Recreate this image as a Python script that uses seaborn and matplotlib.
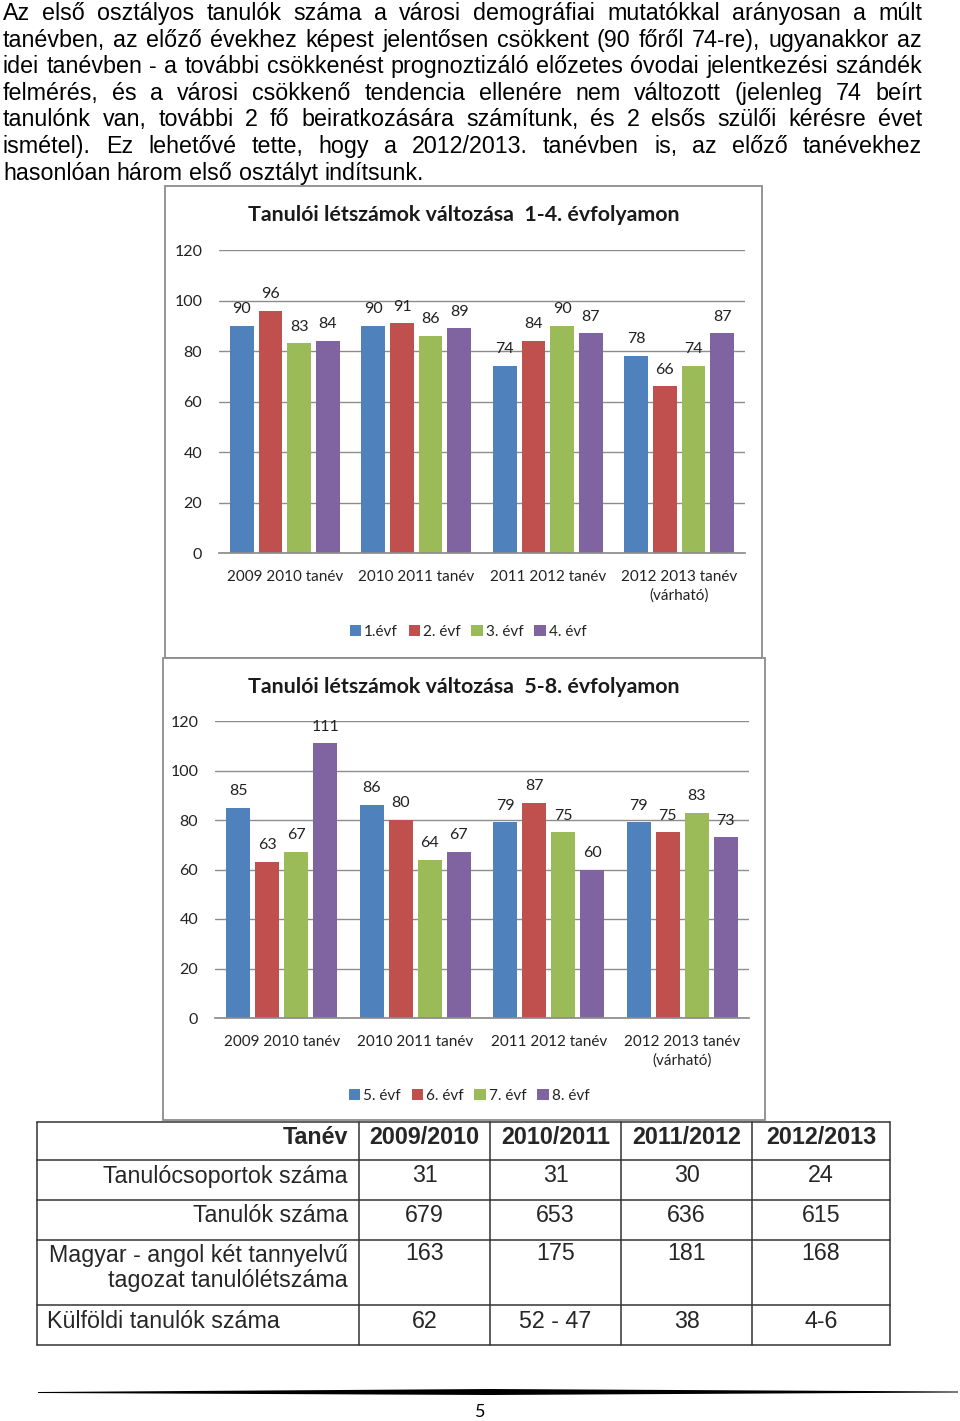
import matplotlib
matplotlib.use("Agg")
import matplotlib.pyplot as plt
import seaborn as sns
import pandas as pd
from matplotlib.patches import Rectangle, Polygon

# --- chart data ---
tanevek = ["2009 2010 tanév", "2010 2011 tanév", "2011 2012 tanév", "2012 2013 tanév\n(várható)"]

also_evf = ["1.évf", "2. évf", "3. évf", "4. évf"]
also_letszam = [
    [90, 90, 74, 78],
    [96, 91, 84, 66],
    [83, 86, 90, 74],
    [84, 89, 87, 87],
]

felso_evf = ["5. évf", "6. évf", "7. évf", "8. évf"]
felso_letszam = [
    [85, 86, 79, 79],
    [63, 80, 87, 75],
    [67, 64, 75, 83],
    [111, 67, 60, 73],
]

colors = ["#4F81BD", "#C0504D", "#9BBB59", "#8064A2"]

# --- table data ---
tabla_fejlec = ["Tanév", "2009/2010", "2010/2011", "2011/2012", "2012/2013"]
tabla_sorok = ["Tanulócsoportok száma", "Tanulók száma",
               "Magyar - angol két tannyelvű\ntagozat tanulólétszáma", "Külföldi tanulók száma"]
tabla_ertekek = [
    ["31", "31", "30", "24"],
    ["679", "653", "636", "615"],
    ["163", "175", "181", "168"],
    ["62", "52 - 47", "38", "4-6"],
]

bekezdes = [
    "Az első osztályos tanulók száma a városi demográfiai mutatókkal arányosan a múlt",
    "tanévben, az előző évekhez képest jelentősen csökkent (90 főről 74-re), ugyanakkor az",
    "idei tanévben - a további csökkenést prognoztizáló előzetes óvodai jelentkezési szándék",
    "felmérés, és a városi csökkenő tendencia ellenére nem változott (jelenleg 74 beírt",
    "tanulónk van, további 2 fő beiratkozására számítunk, és 2 elsős szülői kérésre évet",
    "ismétel). Ez lehetővé tette, hogy a 2012/2013. tanévben is, az előző tanévekhez",
    "hasonlóan három első osztályt indítsunk.",
]

sns.set_theme(style="white")
plt.rcParams["font.family"] = ["Lato", "DejaVu Sans"]
TEXT_FONT = ["Liberation Sans", "DejaVu Sans"]

W, H = 960, 1421
fig = plt.figure(figsize=(W / 100, H / 100), dpi=100)
bg = fig.add_axes([0, 0, 1, 1])
bg.set_xlim(0, W)
bg.set_ylim(H, 0)
bg.axis("off")
renderer = fig.canvas.get_renderer()


def text_width(s, size):
    t = bg.text(0, 0, s, fontsize=size, family=TEXT_FONT)
    w = t.get_window_extent(renderer).width
    t.remove()
    return w


# the tightest line of the paragraph fills the column almost without extra space
par_size = 16 * 912 / text_width(bekezdes[2], 16)
space_w = text_width("a a", par_size) - text_width("aa", par_size)

# --- justified paragraph ---
for i, line in enumerate(bekezdes):
    y = 20 + i * 26.6
    words = line.split(" ")
    texts = [bg.text(0, y, w, fontsize=par_size, family=TEXT_FONT, va="baseline", color="black")
             for w in words]
    widths = [t.get_window_extent(renderer).width for t in texts]
    if i == len(bekezdes) - 1:
        gap = space_w
    else:
        gap = (922 - 3 - sum(widths)) / (len(words) - 1)
    x = 3
    for t, w in zip(texts, widths):
        t.set_x(x)
        x += w + gap


def px_axes(x0, y0, x1, y1):
    return fig.add_axes([x0 / W, 1 - y1 / H, (x1 - x0) / W, (y1 - y0) / H])


def draw_chart(frame, plot, title, title_xy, legend_xy, evf, letszam):
    fx0, fy0, fx1, fy1 = frame
    bg.add_patch(Rectangle((fx0, fy0), fx1 - fx0, fy1 - fy0, facecolor="white",
                           edgecolor="#8c8c8c", lw=1.3, zorder=1))
    bg.text(title_xy[0], title_xy[1], title, ha="center", va="center",
            fontsize=15.4, weight="bold", color="#1a1a1a", zorder=2)

    df = pd.DataFrame({
        "tanev": [t for _ in evf for t in tanevek],
        "evf": [e for e in evf for _ in tanevek],
        "letszam": [v for row in letszam for v in row],
    })
    ax = px_axes(*plot)
    ax.patch.set_visible(False)
    sns.barplot(data=df, x="tanev", y="letszam", hue="evf", palette=colors,
                saturation=1, width=0.87, gap=0.17, linewidth=0, ax=ax)
    ax.set_ylim(0, 120)
    ax.set_yticks(range(0, 121, 20))
    ax.set_xlabel("")
    ax.set_ylabel("")
    ax.yaxis.grid(True, color="#8c8c8c", lw=1)
    ax.set_axisbelow(True)
    for s in ["left", "right", "top"]:
        ax.spines[s].set_visible(False)
    ax.spines["bottom"].set_color("#8c8c8c")
    ax.tick_params(axis="y", length=0, pad=12, labelsize=11.5, labelcolor="#222222")
    ax.tick_params(axis="x", length=0, pad=12, labelsize=11, labelcolor="#222222")
    for lbl in ax.get_xticklabels():
        lbl.set_linespacing(1.45)
    for c in ax.containers:
        ax.bar_label(c, padding=7, fontsize=11.5, color="#222222")

    handles, labels = ax.get_legend_handles_labels()
    ax.get_legend().remove()
    ax.legend(handles, labels, loc="center", bbox_to_anchor=(legend_xy[0] / W, 1 - legend_xy[1] / H),
              bbox_transform=fig.transFigure, ncol=4, frameon=False, fontsize=11,
              handlelength=0.75, handleheight=0.75, handletextpad=0.2, columnspacing=0.7,
              labelcolor="#222222")
    return ax


draw_chart((165, 186, 762, 658), (219, 250, 745, 553),
           "Tanulói létszámok változása  1-4. évfolyamon", (464, 215), (468, 632),
           also_evf, also_letszam)
draw_chart((163, 658, 765, 1120), (215, 721, 749, 1018),
           "Tanulói létszámok változása  5-8. évfolyamon", (464, 687), (469, 1096),
           felso_evf, felso_letszam)

# --- table ---
col_x = [37, 359, 490, 621, 752, 890]
row_y = [1122, 1160, 1200, 1240, 1305, 1345]
for x in col_x:
    bg.plot([x, x], [row_y[0], row_y[-1]], color="#333333", lw=1.1, zorder=5)
for y in row_y:
    bg.plot([col_x[0], col_x[-1]], [y, y], color="#333333", lw=1.1, zorder=5)

col_c = [(col_x[i] + col_x[i + 1]) / 2 for i in range(1, 5)]
bg.text(348, 1137, tabla_fejlec[0], ha="right", va="center", fontsize=par_size,
        family=TEXT_FONT, weight="bold", zorder=6)
for cx, h in zip(col_c, tabla_fejlec[1:]):
    bg.text(cx, 1137, h, ha="center", va="center", fontsize=par_size,
            family=TEXT_FONT, weight="bold", zorder=6)

label_y = [1176, 1215, 1268, 1321]
value_y = [1176, 1215, 1254, 1321]
for i, (lab, vals) in enumerate(zip(tabla_sorok, tabla_ertekek)):
    if i == len(tabla_sorok) - 1:
        bg.text(47, label_y[i], lab, ha="left", va="center", fontsize=par_size,
                family=TEXT_FONT, zorder=6)
    else:
        bg.text(348, label_y[i], lab, ha="right", va="center", fontsize=par_size,
                family=TEXT_FONT, multialignment="right", linespacing=1.1, zorder=6)
    for cx, v in zip(col_c, vals):
        bg.text(cx, value_y[i], v, ha="center", va="center", fontsize=par_size,
                family=TEXT_FONT, zorder=6)

# --- footer ---
bg.add_patch(Polygon([(38, 1392), (490, 1389), (958, 1391.5), (958, 1392.5), (490, 1395), (38, 1393)],
                     closed=True, facecolor="black", edgecolor="none"))
bg.text(480, 1412, "5", ha="center", va="center", fontsize=13, color="black")

fig.savefig("out.png", dpi=100)
